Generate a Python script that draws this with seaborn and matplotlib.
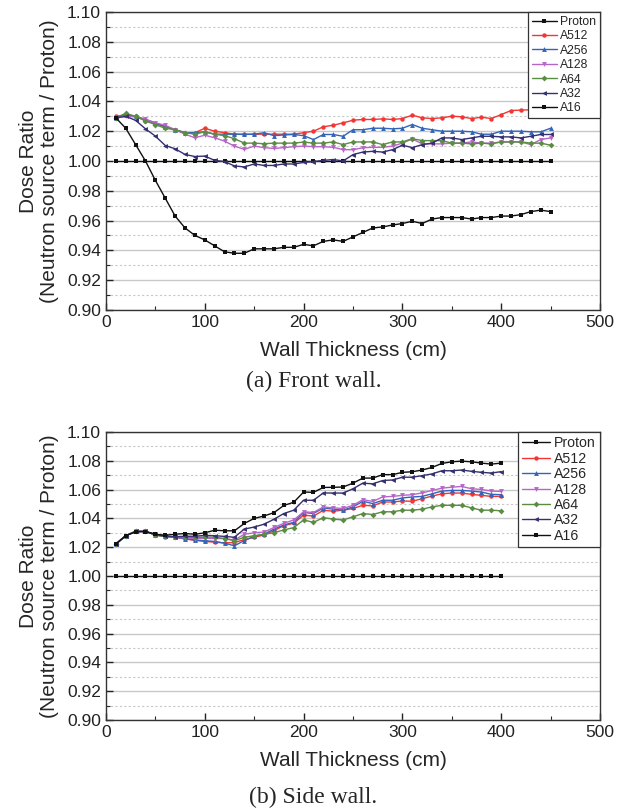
import numpy as np
import pandas as pd
import matplotlib
matplotlib.use("Agg")
import matplotlib.pyplot as plt
import seaborn as sns
from matplotlib.ticker import MultipleLocator

# wall thickness (cm)
front_x = list(range(10, 451, 10))
side_x = list(range(10, 401, 10))

# ---- (a) Front wall ----
front_proton = [1.000] * len(front_x)
front_A512 = [1.030, 1.031, 1.030, 1.027, 1.025, 1.023, 1.021, 1.019, 1.019, 1.022,
              1.020, 1.019, 1.018, 1.018, 1.018, 1.018, 1.018, 1.018, 1.018, 1.019,
              1.020, 1.023, 1.024, 1.0256, 1.0274, 1.0279, 1.0279, 1.0283, 1.0279, 1.0285,
              1.0308, 1.029, 1.0285, 1.029, 1.0301, 1.0297, 1.0285, 1.0294, 1.0285, 1.0312,
              1.0339, 1.0342, 1.0344, 1.0342, 1.034]
front_A256 = [1.029, 1.031, 1.030, 1.028, 1.0256, 1.023, 1.021, 1.019, 1.019, 1.0196,
              1.018, 1.018, 1.018, 1.0178, 1.018, 1.019, 1.017, 1.0175, 1.0178, 1.017,
              1.0144, 1.0178, 1.0178, 1.0166, 1.021, 1.021, 1.022, 1.022, 1.0216, 1.022,
              1.0245, 1.022, 1.021, 1.020, 1.020, 1.020, 1.0196, 1.018, 1.018, 1.020,
              1.020, 1.020, 1.0196, 1.0196, 1.022]
front_A128 = [1.029, 1.030, 1.0296, 1.028, 1.0256, 1.024, 1.021, 1.018, 1.0156, 1.0173,
              1.0156, 1.0133, 1.010, 1.0078, 1.010, 1.009, 1.0084, 1.009, 1.0096, 1.010,
              1.0096, 1.0096, 1.0092, 1.0076, 1.0076, 1.0089, 1.0092, 1.0092, 1.010, 1.012,
              1.0148, 1.0115, 1.0115, 1.0115, 1.012, 1.012, 1.0128, 1.012, 1.012, 1.0128,
              1.0128, 1.0128, 1.011, 1.0144, 1.0155]
front_A64 = [1.029, 1.032, 1.030, 1.027, 1.0244, 1.022, 1.021, 1.019, 1.018, 1.0196,
             1.018, 1.017, 1.015, 1.012, 1.012, 1.0116, 1.012, 1.012, 1.012, 1.0127,
             1.012, 1.012, 1.0128, 1.011, 1.0128, 1.0128, 1.0128, 1.011, 1.0128, 1.0128,
             1.015, 1.0137, 1.0137, 1.0137, 1.012, 1.012, 1.0115, 1.012, 1.0115, 1.0128,
             1.0128, 1.0128, 1.012, 1.012, 1.0106]
front_A32 = [1.029, 1.030, 1.0273, 1.0216, 1.0167, 1.0104, 1.0082, 1.0044, 1.003, 1.0033,
             1.0004, 0.9996, 0.9967, 0.996, 0.998, 0.997, 0.997, 0.998, 0.998, 0.999,
             0.9996, 1.0004, 1.001, 1.000, 1.0043, 1.006, 1.0065, 1.006, 1.0076, 1.0106,
             1.009, 1.011, 1.012, 1.0155, 1.0155, 1.0144, 1.0155, 1.0166, 1.0166, 1.0162,
             1.0162, 1.0155, 1.0166, 1.0178, 1.0178]
front_A16 = [1.029, 1.022, 1.011, 1.000, 0.987, 0.975, 0.963, 0.955, 0.950, 0.947,
             0.943, 0.939, 0.938, 0.938, 0.941, 0.941, 0.941, 0.942, 0.942, 0.944,
             0.943, 0.946, 0.947, 0.946, 0.949, 0.952, 0.955, 0.9557, 0.957, 0.958,
             0.9595, 0.958, 0.961, 0.962, 0.962, 0.962, 0.961, 0.962, 0.962, 0.963,
             0.963, 0.964, 0.966, 0.967, 0.966]

# ---- (b) Side wall ----
side_proton = [1.000] * len(side_x)
side_A512 = [1.0222, 1.028, 1.031, 1.031, 1.0285, 1.0273, 1.027, 1.0257, 1.0248, 1.024,
             1.0235, 1.023, 1.0232, 1.0253, 1.0269, 1.0285, 1.0315, 1.035, 1.0366, 1.0423,
             1.0416, 1.0457, 1.045, 1.0457, 1.0469, 1.0491, 1.0487, 1.0514, 1.0514, 1.0521,
             1.0519, 1.0537, 1.0555, 1.0571, 1.0576, 1.0576, 1.0567, 1.056, 1.0553, 1.0553]
side_A256 = [1.0222, 1.028, 1.031, 1.031, 1.0285, 1.0275, 1.027, 1.026, 1.025, 1.0245,
             1.024, 1.0228, 1.021, 1.0246, 1.0275, 1.029, 1.0326, 1.0354, 1.0373, 1.0441,
             1.0434, 1.0473, 1.0464, 1.0457, 1.048, 1.0519, 1.0503, 1.0526, 1.0526, 1.0542,
             1.0549, 1.0553, 1.0571, 1.059, 1.0594, 1.0594, 1.059, 1.0583, 1.0567, 1.0565]
side_A128 = [1.0222, 1.028, 1.031, 1.031, 1.0285, 1.0275, 1.027, 1.0265, 1.026, 1.0262,
             1.026, 1.026, 1.025, 1.029, 1.030, 1.0305, 1.0337, 1.0366, 1.0389, 1.0446,
             1.0441, 1.048, 1.0473, 1.0469, 1.0491, 1.053, 1.0518, 1.0549, 1.0553, 1.056,
             1.0565, 1.0577, 1.0594, 1.061, 1.0617, 1.0622, 1.0606, 1.0601, 1.059, 1.0587]
side_A64 = [1.0222, 1.028, 1.031, 1.031, 1.0285, 1.0275, 1.027, 1.027, 1.0268, 1.027,
            1.027, 1.026, 1.0245, 1.0269, 1.028, 1.029, 1.030, 1.032, 1.0336, 1.0389,
            1.0373, 1.0405, 1.0395, 1.0389, 1.0411, 1.0434, 1.0427, 1.0446, 1.0446, 1.0457,
            1.0457, 1.0464, 1.048, 1.0491, 1.0491, 1.0491, 1.0473, 1.0457, 1.0457, 1.0453]
side_A32 = [1.0222, 1.028, 1.031, 1.031, 1.029, 1.0276, 1.0273, 1.0276, 1.0276, 1.0282,
            1.028, 1.0275, 1.0269, 1.0326, 1.034, 1.036, 1.0394, 1.0434, 1.0457, 1.0526,
            1.0526, 1.0577, 1.0576, 1.0576, 1.0606, 1.0645, 1.064, 1.0663, 1.0667, 1.0686,
            1.0686, 1.0697, 1.0709, 1.0731, 1.0731, 1.0736, 1.0727, 1.072, 1.0715, 1.0725]
side_A16 = [1.0222, 1.028, 1.0306, 1.0308, 1.029, 1.0283, 1.029, 1.0295, 1.029, 1.030,
            1.0318, 1.0314, 1.0314, 1.0365, 1.040, 1.0417, 1.044, 1.049, 1.0512, 1.0583,
            1.0581, 1.0615, 1.0616, 1.0618, 1.0645, 1.068, 1.068, 1.0704, 1.0704, 1.072,
            1.0724, 1.0736, 1.0754, 1.0782, 1.0793, 1.0798, 1.0793, 1.0784, 1.0777, 1.0784]

series = ["Proton", "A512", "A256", "A128", "A64", "A32", "A16"]
colors = {"Proton": "#111111", "A512": "#f53434", "A256": "#3264b8", "A128": "#b865c8",
          "A64": "#5a8c42", "A32": "#35306f", "A16": "#111111"}
markers = {"Proton": "s", "A512": "o", "A256": "^", "A128": "v",
           "A64": "D", "A32": "<", "A16": "s"}
msizes = {"Proton": 2.2, "A512": 3.2, "A256": 3.5, "A128": 3.5,
          "A64": 3.0, "A32": 3.5, "A16": 3.5}

front = pd.DataFrame({"x": front_x, "Proton": front_proton, "A512": front_A512,
                      "A256": front_A256, "A128": front_A128, "A64": front_A64,
                      "A32": front_A32, "A16": front_A16})
side = pd.DataFrame({"x": side_x, "Proton": side_proton, "A512": side_A512,
                     "A256": side_A256, "A128": side_A128, "A64": side_A64,
                     "A32": side_A32, "A16": side_A16})

sns.set_theme(style="white")
plt.rcParams['font.family'] = ['Liberation Sans', 'DejaVu Sans']

fig = plt.figure(figsize=(6.27, 8.09), dpi=100)
ax1 = fig.add_axes([0.169, 0.617, 0.788, 0.368])
ax2 = fig.add_axes([0.169, 0.110, 0.788, 0.356])


def draw(ax, df, leg_fs, leg_space, hlen):
    for s in series:
        sns.lineplot(data=df, x="x", y=s, ax=ax, color=colors[s], marker=markers[s],
                     markersize=msizes[s], markeredgewidth=0, linewidth=1.0,
                     label=s, estimator=None)
    ax.set_xlim(0, 500)
    ax.set_ylim(0.90, 1.10)
    ax.xaxis.set_major_locator(MultipleLocator(100))
    ax.xaxis.set_minor_locator(MultipleLocator(50))
    ax.yaxis.set_minor_locator(MultipleLocator(0.01))
    ax.set_yticks(np.arange(0.90, 1.101, 0.02))
    ax.set_yticklabels([f"{v:.2f}" for v in np.arange(0.90, 1.101, 0.02)])
    ax.grid(axis="y", which="major", color="#c8c8c8", linewidth=1.0, linestyle="-")
    ax.grid(axis="y", which="minor", color="#c8c8c8", linewidth=0.8, linestyle=(0, (2, 2)))
    ax.set_axisbelow(True)
    ax.tick_params(axis="both", which="major", direction="in", length=5, width=1,
                   labelsize=12.5, colors="#222222", left=True, bottom=True)
    ax.tick_params(axis="both", which="minor", direction="in", length=3, width=0.8,
                   left=True, bottom=True)
    for sp in ax.spines.values():
        sp.set_color("#333333")
        sp.set_linewidth(1.0)
    ax.set_xlabel("Wall Thickness (cm)", fontsize=15, labelpad=8)
    ax.set_ylabel("Dose Ratio\n(Neutron source term / Proton)", fontsize=15,
                  labelpad=6, linespacing=1.15)
    leg = ax.legend(loc="upper right", borderaxespad=0, fontsize=leg_fs, frameon=True,
                    fancybox=False, edgecolor="#333333", handlelength=hlen,
                    labelspacing=leg_space, handletextpad=0.25, borderpad=0.3)
    leg.get_frame().set_linewidth(0.9)
    leg.get_frame().set_alpha(1)


draw(ax1, front, 8.8, 0.2, 2.1)
draw(ax2, side, 10.2, 0.1, 2.0)

fig.text(0.5, 1 - 381 / 809, "(a) Front wall.", ha="center", va="center",
         fontsize=17, family=["Liberation Serif", "DejaVu Serif"])
fig.text(0.5, 1 - 797 / 809, "(b) Side wall.", ha="center", va="center",
         fontsize=17, family=["Liberation Serif", "DejaVu Serif"])

fig.savefig("out.png", dpi=100)
